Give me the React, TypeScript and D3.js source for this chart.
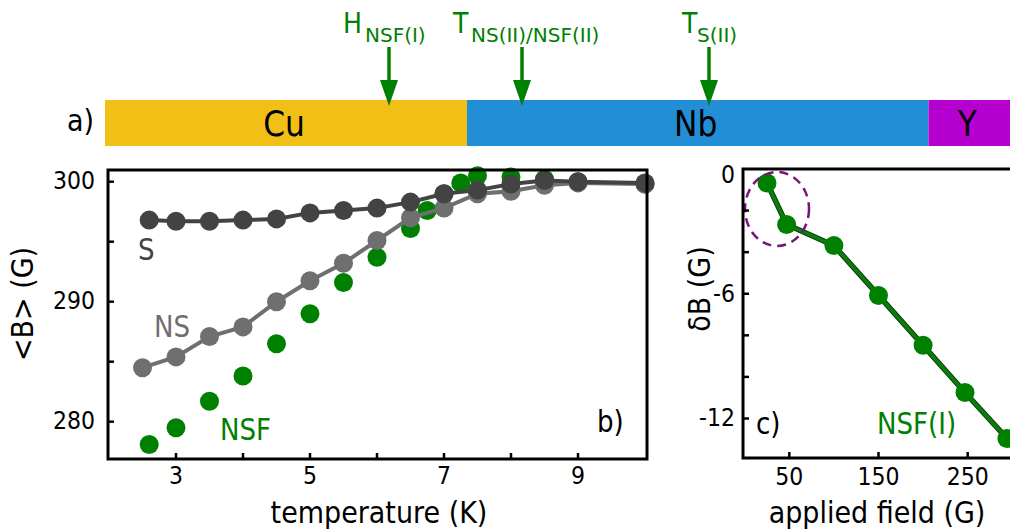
import React from 'react';
import * as d3 from 'd3';

// panel b: temperature scans at 300 G
const tempS = [2.6, 3, 3.5, 4, 4.5, 5, 5.5, 6, 6.5, 7, 7.5, 8, 8.5, 9, 10];
const bS = [296.8, 296.7, 296.7, 296.8, 296.9, 297.4, 297.6, 297.8, 298.3, 299.0, 299.3, 299.8, 300.1, 300.0, 299.9];

const tempNS = [2.5, 3, 3.5, 4, 4.5, 5, 5.5, 6, 6.5, 7, 7.5, 8, 8.5, 9, 10];
const bNS = [284.5, 285.4, 287.1, 287.9, 290.0, 291.75, 293.2, 295.1, 297.0, 297.8, 299.0, 299.2, 299.7, 299.9, 299.8];

const tempNSF = [2.6, 3, 3.5, 4, 4.5, 5, 5.5, 6, 6.5, 6.75, 7, 7.25, 7.5, 8, 8.5, 9, 10];
const bNSF = [278.1, 279.5, 281.7, 283.8, 286.5, 289.0, 291.6, 293.7, 296.1, 297.6, 299.0, 299.9, 300.5, 300.4, 300.2, 300.0, 299.8];

// panel c: field scan, NSF(I)
const field = [25, 47, 100, 150, 200, 247, 294];
const deltaB = [-0.67, -2.67, -3.68, -6.08, -8.48, -10.75, -12.96];

// panel a: layers
const layers = ['Cu', 'Nb', 'Y'];
const layerColors = ['#f2bf16', '#228ed6', '#b500cf'];

const bXTicks = [3, 4, 5, 6, 7, 8, 9];
const bXLabels = [3, 5, 7, 9];
const bYTicks = [280, 285, 290, 295, 300];
const bYLabels = [280, 290, 300];
const cXTicks = [50, 150, 250];
const cYTicks = [-12, -10, -8, -6, -4, -2];
const cYLabels = [0, -6, -12];

const FONT = 'DejaVu Sans, Verdana, sans-serif';
const SX = 0.87; // the original lettering is a bit condensed

const GREEN = '#008000';
const DARK = '#434343';
const GREY = '#6f6f6f';

type TProps = {
  x: number; y: number; size: number; fill?: string; anchor?: string;
  rotate?: number; sx?: number; children: React.ReactNode;
};
const T = ({ x, y, size, fill = '#000', anchor = 'start', rotate = 0, sx = SX, children }: TProps) => (
  <text
    transform={`translate(${x},${y}) rotate(${rotate}) scale(${sx},1)`}
    fontSize={size}
    fill={fill}
    textAnchor={anchor}
    fontFamily={FONT}
  >
    {children}
  </text>
);

const Arrow = ({ x }: { x: number }) => (
  <g>
    <line x1={x} x2={x} y1={47} y2={86} stroke={GREEN} strokeWidth={3.5} />
    <path d={`M${x - 9},80 L${x + 9},80 L${x},106 Z`} fill={GREEN} />
  </g>
);

export default function App() {
  // panel a bar
  const barX = d3.scaleLinear().domain([0, 1]).range([105, 1010]);
  const bounds = [0, 0.4, 0.9099, 1];

  // panel b
  const bx = d3.scaleLinear().domain([1.985, 10.03]).range([108, 647]);
  const by = d3.scaleLinear().domain([276.89, 300.975]).range([459, 170]);

  // panel c
  const cx = d3.scaleLinear().domain([-1.9, 300.8]).range([743, 1013]);
  const cy = d3.scaleLinear().domain([-13.9, 0]).range([458, 169]);

  const sPts = tempS.map((t, i) => [t, bS[i]] as [number, number]);
  const nsPts = tempNS.map((t, i) => [t, bNS[i]] as [number, number]);
  const nsfPts = tempNSF.map((t, i) => [t, bNSF[i]] as [number, number]);
  const cPts = field.map((f, i) => [f, deltaB[i]] as [number, number]);

  const lineB = d3.line<[number, number]>().x(d => bx(d[0])).y(d => by(d[1]));
  const lineC = d3.line<[number, number]>().x(d => cx(d[0])).y(d => cy(d[1]));

  const r = 9.5;
  const tickSize = 24.5;
  const tickSX = 0.9;

  return (
    <div style={{ position: 'fixed', left: 0, top: 0, background: '#fff' }}>
      <svg width={1010} height={531} style={{ display: 'block' }}>
        <rect width={1010} height={531} fill="#fff" />

        {/* ---- a) layer bar ---- */}
        {layers.map((name, i) => {
          const x0 = barX(bounds[i]);
          const x1 = barX(bounds[i + 1]);
          return (
            <g key={name}>
              <rect x={x0} y={100} width={x1 - x0} height={46} fill={layerColors[i]} />
              <T x={(x0 + x1) / 2 - 2} y={136} size={36} anchor="middle">{name}</T>
            </g>
          );
        })}
        <T x={67} y={131} size={31}>a)</T>

        <Arrow x={389} />
        <Arrow x={522} />
        <Arrow x={709} />
        <T x={343} y={33} size={29} fill={GREEN}>H</T>
        <text x={365} y={42} fontSize={20} fill={GREEN} fontFamily={FONT}>NSF(I)</text>
        <T x={453} y={33} size={29} fill={GREEN}>T</T>
        <text x={471} y={42} fontSize={20} fill={GREEN} fontFamily={FONT}>NS(II)/NSF(II)</text>
        <T x={682} y={33} size={29} fill={GREEN}>T</T>
        <text x={697} y={42} fontSize={20} fill={GREEN} fontFamily={FONT}>S(II)</text>

        {/* ---- b) temperature scans ---- */}
        <g>
          {nsfPts.map((d, i) => (
            <circle key={'nsf' + i} cx={bx(d[0])} cy={by(d[1])} r={r} fill={GREEN} />
          ))}
          <path d={lineB(nsPts) || ''} fill="none" stroke={GREY} strokeWidth={4} />
          {nsPts.map((d, i) => (
            <circle key={'ns' + i} cx={bx(d[0])} cy={by(d[1])} r={r} fill={GREY} />
          ))}
          <path d={lineB(sPts) || ''} fill="none" stroke={DARK} strokeWidth={4} />
          {sPts.map((d, i) => (
            <circle key={'s' + i} cx={bx(d[0])} cy={by(d[1])} r={r} fill={DARK} />
          ))}

          <rect x={108} y={170} width={539} height={289} fill="none" stroke="#000" strokeWidth={3} />
          {bXTicks.map(t => (
            <line key={'bxt' + t} x1={bx(t)} x2={bx(t)} y1={459} y2={453} stroke="#000" strokeWidth={2.5} />
          ))}
          {bYTicks.map(t => (
            <line key={'byt' + t} x1={108} x2={114} y1={by(t)} y2={by(t)} stroke="#000" strokeWidth={2.5} />
          ))}
          {bXLabels.map(t => (
            <T key={'bxl' + t} x={bx(t)} y={484} size={tickSize} sx={tickSX} anchor="middle">{t}</T>
          ))}
          {bYLabels.map(t => (
            <T key={'byl' + t} x={95} y={by(t) + 7} size={tickSize} sx={tickSX} anchor="end">{t}</T>
          ))}
          <T x={379} y={523} size={31} anchor="middle">temperature (K)</T>
          <T x={33} y={304} size={31} anchor="middle" rotate={-90}>{'<B> (G)'}</T>

          <T x={138} y={260} size={30} fill={DARK}>S</T>
          <T x={154} y={337} size={30} fill={GREY}>NS</T>
          <T x={220} y={440} size={30} fill={GREEN}>NSF</T>
          <T x={597} y={432} size={30}>b)</T>
        </g>

        {/* ---- c) field scan ---- */}
        <g>
          <path d={lineC(cPts) || ''} fill="none" stroke="#0a3f0a" strokeWidth={5.5} />
          <path d={lineC(cPts) || ''} fill="none" stroke="#0b7d0b" strokeWidth={3.5} />
          {cPts.map((d, i) => (
            <circle key={'c' + i} cx={cx(d[0])} cy={cy(d[1])} r={r} fill={GREEN} />
          ))}
          <ellipse cx={777} cy={209} rx={32} ry={37} fill="none" stroke="#7a157a"
            strokeWidth={2.5} strokeDasharray="9 6" />

          <path d="M1012,169 L743,169 L743,458 L1012,458" fill="none" stroke="#000" strokeWidth={3} />
          {cXTicks.map(t => (
            <line key={'cxt' + t} x1={cx(t)} x2={cx(t)} y1={458} y2={452} stroke="#000" strokeWidth={2.5} />
          ))}
          {cYTicks.map(t => (
            <line key={'cyt' + t} x1={743} x2={749} y1={cy(t)} y2={cy(t)} stroke="#000" strokeWidth={2.5} />
          ))}
          {cXTicks.map(t => (
            <T key={'cxl' + t} x={cx(t)} y={485} size={tickSize} sx={tickSX} anchor="middle">{t}</T>
          ))}
          {cYLabels.map(t => (
            <T key={'cyl' + t} x={735} y={Math.max(cy(t) + 8, 183)} size={tickSize} sx={tickSX} anchor="end">{t}</T>
          ))}
          <T x={877} y={523} size={31} anchor="middle">applied field (G)</T>
          <T x={710} y={289} size={31} anchor="middle" rotate={-90}>δB (G)</T>

          <T x={756} y={434} size={30}>c)</T>
          <T x={877} y={434} size={30} fill={GREEN}>NSF(I)</T>
        </g>
      </svg>
    </div>
  );
}
